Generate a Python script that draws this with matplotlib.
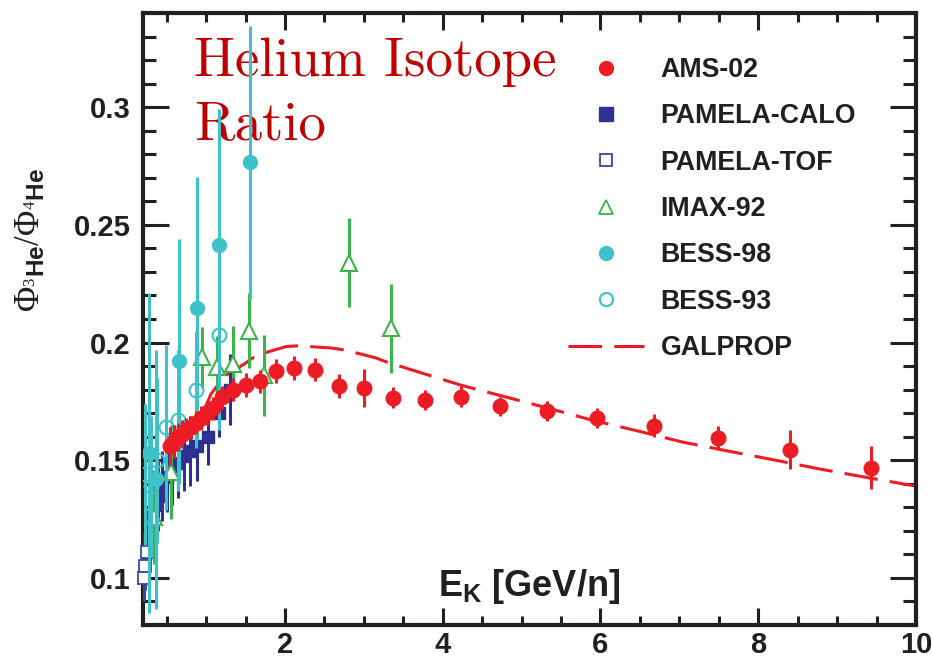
import matplotlib
matplotlib.use("Agg")
import matplotlib.pyplot as plt
from matplotlib.lines import Line2D
from matplotlib.ticker import MultipleLocator, FixedLocator, FixedFormatter

plt.rcParams['font.family'] = ['Liberation Sans', 'DejaVu Sans']
plt.rcParams['mathtext.fontset'] = 'custom'
plt.rcParams['mathtext.rm'] = 'Liberation Serif'
plt.rcParams['mathtext.it'] = 'Liberation Serif:italic'
plt.rcParams['mathtext.bf'] = 'Liberation Sans:bold'

# ---------------- data ----------------
ams_x = [0.54, 0.59, 0.64, 0.69, 0.75, 0.81, 0.87, 0.94, 1.01, 1.09, 1.20, 1.34, 1.50, 1.68,
         1.89, 2.11, 2.38, 2.68, 3.00, 3.37, 3.78, 4.23, 4.73, 5.32, 5.95, 6.68, 7.49, 8.40, 9.43]
ams_y = [0.156, 0.158, 0.160, 0.161, 0.163, 0.164, 0.166, 0.168, 0.170, 0.172, 0.1767, 0.180, 0.182, 0.1835,
         0.1878, 0.1892, 0.1885, 0.1815, 0.1807, 0.1766, 0.1757, 0.177, 0.173, 0.171, 0.168, 0.1647, 0.1596, 0.1545, 0.1468]
ams_e = [0.008, 0.007, 0.006, 0.006, 0.005, 0.005, 0.005, 0.005, 0.005, 0.005, 0.005, 0.005, 0.005, 0.005,
         0.005, 0.005, 0.005, 0.005, 0.008, 0.0043, 0.0043, 0.0045, 0.004, 0.0043, 0.0043, 0.005, 0.005, 0.0084, 0.0091]

calo_x = [0.22, 0.26, 0.30, 0.34, 0.39, 0.44, 0.50, 0.57, 0.64, 0.72, 0.80, 0.88, 1.02, 1.165, 1.30]
calo_y = [0.110, 0.117, 0.124, 0.131, 0.135, 0.139, 0.143, 0.146, 0.149, 0.152, 0.154, 0.156, 0.160, 0.170, 0.180]
calo_e = [0.012, 0.012, 0.013, 0.014, 0.015, 0.015, 0.015, 0.015, 0.015, 0.015, 0.015, 0.015, 0.012, 0.010, 0.015]

tof_x = [0.21, 0.23, 0.25]
tof_y = [0.100, 0.105, 0.111]
tof_e = [0.010, 0.010, 0.010]

imax_x = [0.34, 0.55, 0.95, 1.14, 1.34, 1.54, 1.74, 2.81, 3.35]
imax_y = [0.126, 0.145, 0.1937, 0.1898, 0.191, 0.2050, 0.186, 0.234, 0.206]
imax_e = [0.020, 0.020, 0.013, 0.013, 0.016, 0.016, 0.017, 0.019, 0.019]

bess98_x = [0.28, 0.37, 0.66, 0.89, 1.165, 1.557]
bess98_y = [0.153, 0.142, 0.192, 0.2145, 0.2413, 0.2766]
bess98_e = [0.068, 0.055, 0.052, 0.056, 0.058, 0.058]

bess93_x = [0.22, 0.30, 0.38, 0.49, 0.65, 0.87, 1.16]
bess93_y = [0.144, 0.139, 0.150, 0.164, 0.167, 0.180, 0.203]
bess93_e = [0.030, 0.030, 0.035, 0.035, 0.030, 0.025, 0.040]

gal_x = [0.93, 1.00, 1.06, 1.15, 1.275, 1.485, 1.633, 2.013, 2.16, 2.58, 2.75, 3.15, 3.30, 3.70,
         4.25, 4.82, 5.37, 5.92, 6.49, 7.03, 7.60, 8.19, 8.79, 9.42, 10.0]
gal_y = [0.170, 0.1732, 0.178, 0.182, 0.1867, 0.1909, 0.1945, 0.1983, 0.1986, 0.1977, 0.1969, 0.1935, 0.1916, 0.1874,
         0.1817, 0.1767, 0.1718, 0.1668, 0.1623, 0.1578, 0.1540, 0.1502, 0.1462, 0.1424, 0.1390]

labels = ['AMS-02', 'PAMELA-CALO', 'PAMELA-TOF', 'IMAX-92', 'BESS-98', 'BESS-93', 'GALPROP']
yticks = [0.1, 0.15, 0.2, 0.25, 0.3]
ytick_labels = ['0.1', '0.15', '0.2', '0.25', '0.3']
xticks = [2, 4, 6, 8, 10]
xtick_labels = ['2', '4', '6', '8', '10']

# ---------------- colours ----------------
RED = '#ed1c24'
DBLUE = '#2e3192'
TOFBLUE = '#3c48a0'
GREEN = '#3cb44a'
TEAL = '#3ec1c9'
INK = '#231f20'

fig = plt.figure(figsize=(9.32, 6.6), dpi=100)
ax = fig.add_axes([143/932, 1-625/660, (916-143)/932, (625-13)/660])

ax.plot(gal_x, gal_y, color=RED, lw=2.2, ls=(0, (11, 4)), zorder=2)

elw = 2.2
ax.errorbar(calo_x, calo_y, yerr=calo_e, fmt='s', color=DBLUE, ms=8.5, elinewidth=elw, capsize=0, zorder=3)
ax.errorbar(tof_x, tof_y, yerr=tof_e, fmt='s', color=TOFBLUE, mfc='white', mec=TOFBLUE, mew=1.3,
            ms=8.5, elinewidth=elw, capsize=0, zorder=3, clip_on=False)
ax.errorbar(imax_x, imax_y, yerr=imax_e, fmt='^', color=GREEN, mfc='white', mec=GREEN, mew=1.5,
            ms=11, elinewidth=elw, capsize=0, zorder=4)
ax.errorbar(bess93_x, bess93_y, yerr=bess93_e, fmt='o', color=TEAL, mfc='none', mec=TEAL, mew=1.5,
            ms=10, elinewidth=elw, capsize=0, zorder=5)
ax.errorbar(bess98_x, bess98_y, yerr=bess98_e, fmt='o', color=TEAL, ms=10, elinewidth=elw, capsize=0, zorder=5)
ax.errorbar(ams_x, ams_y, yerr=ams_e, fmt='o', color=RED, ms=10.5, elinewidth=elw, capsize=0, zorder=6)

ax.set_xlim(0.2, 10)
ax.set_ylim(0.08, 0.34)

ax.xaxis.set_major_locator(FixedLocator(xticks))
ax.xaxis.set_major_formatter(FixedFormatter(xtick_labels))
ax.xaxis.set_minor_locator(MultipleLocator(0.5))
ax.yaxis.set_major_locator(FixedLocator(yticks))
ax.yaxis.set_major_formatter(FixedFormatter(ytick_labels))
ax.yaxis.set_minor_locator(MultipleLocator(0.01))

ax.tick_params(which='both', direction='in', top=True, right=True, width=2.2, color=INK)
ax.tick_params(axis='x', which='major', length=12, pad=4)
ax.tick_params(axis='x', which='minor', length=6.5)
ax.tick_params(axis='y', which='major', length=19, pad=9)
ax.tick_params(axis='y', which='minor', length=9.5)
for lab in ax.get_xticklabels() + ax.get_yticklabels():
    lab.set_fontsize(21)
    lab.set_fontweight('bold')
    lab.set_color(INK)
for sp in ax.spines.values():
    sp.set_linewidth(3)
    sp.set_color(INK)

# title
ax.text(0.066, 0.897, 'Helium Isotope', transform=ax.transAxes, fontfamily='cmr10',
        fontsize=39.5, color='#c00000', ha='left', va='baseline')
ax.text(0.066, 0.7925, 'Ratio', transform=ax.transAxes, fontfamily='cmr10',
        fontsize=39.5, color='#c00000', ha='left', va='baseline')

# axis titles
ax.text(0.617, 0.047, r'$\mathbf{E_K}$ [GeV/n]', transform=ax.transAxes, ha='right', va='baseline',
        fontsize=26, fontweight='bold', color=INK)
fig.text(30/932, 1-240/660, r'$\Phi_{^{3}\mathbf{He}}/\Phi_{^{4}\mathbf{He}}$', rotation=90,
         ha='center', va='center', fontsize=25, color=INK)

handles = [
    Line2D([], [], ls='none', marker='o', color=RED, ms=10),
    Line2D([], [], ls='none', marker='s', color=DBLUE, ms=9.5),
    Line2D([], [], ls='none', marker='s', mfc='white', mec=TOFBLUE, mew=1.3, ms=9),
    Line2D([], [], ls='none', marker='^', mfc='white', mec=GREEN, mew=1.3, ms=10.5),
    Line2D([], [], ls='none', marker='o', color=TEAL, ms=10),
    Line2D([], [], ls='none', marker='o', mfc='white', mec=TEAL, mew=1.5, ms=9.5),
    Line2D([], [], color=RED, lw=2.2, ls=(0, (11, 4))),
]
leg = ax.legend(handles, labels, loc='upper left', bbox_to_anchor=((568-143)/773, (625-57)/612),
                frameon=False, fontsize=19.3, handlelength=2.85, handletextpad=0.6,
                labelspacing=0.76, borderpad=0, borderaxespad=0)
for t in leg.get_texts():
    t.set_fontweight('bold')
    t.set_color(INK)

fig.savefig('out.png', dpi=100)
